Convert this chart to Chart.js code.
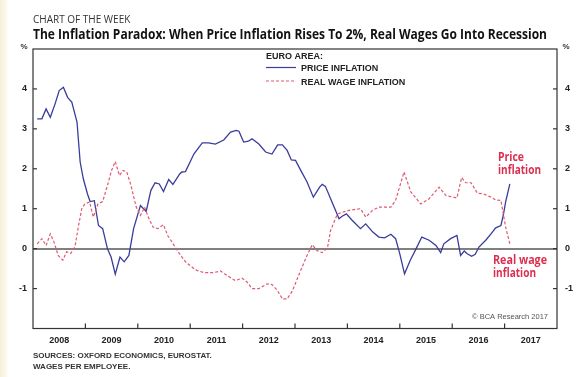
<!DOCTYPE html>
<html>
<head>
<meta charset="utf-8">
<script src="https://cdn.jsdelivr.net/npm/chart.js@4.4.1/dist/chart.umd.min.js"></script>
<style>
  html, body { margin: 0; padding: 0; background: #fff; }
  body { width: 588px; height: 377px; overflow: hidden; position: relative; }
  #edge {
    position: absolute; left: 0; top: 0; width: 9px; height: 377px;
    background: linear-gradient(to right, #f6eed8 0px, #fbf6ea 5px, #ffffff 9px);
  }
  canvas { display: block; position: absolute; left: 0; top: 0; }
</style>
</head>
<body>
<div id="edge"></div>
<canvas id="chart" width="588" height="377"></canvas>
<script>
// euro area, % y/y
const yearLabels = ["2008", "2009", "2010", "2011", "2012", "2013", "2014", "2015", "2016", "2017"];
const yTicks = [-1, 0, 1, 2, 3, 4];

const priceYears = [2008.08, 2008.17, 2008.25, 2008.33, 2008.42, 2008.50, 2008.58, 2008.66, 2008.74, 2008.84, 2008.90, 2008.96,
  2009.04, 2009.09, 2009.17, 2009.25, 2009.33, 2009.42, 2009.49, 2009.57, 2009.66, 2009.74, 2009.83, 2009.92,
  2010.05, 2010.16, 2010.25, 2010.33, 2010.41, 2010.49, 2010.59, 2010.67, 2010.80, 2010.84, 2010.91,
  2011.07, 2011.23, 2011.35, 2011.48, 2011.64, 2011.77, 2011.88, 2011.93,
  2012.02, 2012.11, 2012.18, 2012.31, 2012.44, 2012.56, 2012.67, 2012.76, 2012.85, 2012.93,
  2013.01, 2013.11, 2013.23, 2013.35, 2013.47, 2013.52, 2013.58, 2013.68, 2013.84, 2013.90, 2013.98,
  2014.09, 2014.25, 2014.35, 2014.48, 2014.60, 2014.71, 2014.83, 2014.92,
  2015.00, 2015.09, 2015.20, 2015.30, 2015.42, 2015.56, 2015.69, 2015.78, 2015.84, 2015.97,
  2016.09, 2016.16, 2016.23, 2016.28, 2016.37, 2016.44, 2016.51, 2016.64, 2016.74, 2016.83, 2016.93, 2016.98,
  2017.02, 2017.10];
const priceValues = [3.25, 3.25, 3.5, 3.29, 3.62, 3.96, 4.04, 3.79, 3.67, 3.17, 2.17, 1.75,
  1.37, 1.18, 1.2, 0.58, 0.5, 0.0, -0.21, -0.64, -0.21, -0.33, -0.17, 0.5,
  1.08, 0.93, 1.46, 1.65, 1.62, 1.43, 1.73, 1.61, 1.87, 1.92, 1.93,
  2.37, 2.65, 2.65, 2.62, 2.72, 2.92, 2.96, 2.94,
  2.67, 2.69, 2.75, 2.62, 2.42, 2.37, 2.6, 2.6, 2.46, 2.22,
  2.21, 1.96, 1.67, 1.29, 1.54, 1.61, 1.56, 1.25, 0.75, 0.81, 0.87,
  0.71, 0.5, 0.62, 0.42, 0.29, 0.27, 0.36, 0.25,
  -0.13, -0.63, -0.29, -0.03, 0.29, 0.21, 0.08, -0.1, 0.12, 0.25,
  0.33, -0.17, -0.06, -0.12, -0.19, -0.14, 0.04, 0.21, 0.37, 0.52, 0.58, 0.87,
  1.17, 1.62];

const wageYears = [2008.08, 2008.17, 2008.25, 2008.33, 2008.40, 2008.48, 2008.57, 2008.64, 2008.72, 2008.80, 2008.87, 2008.93, 2008.99,
  2009.08, 2009.15, 2009.24, 2009.33, 2009.42, 2009.50, 2009.57, 2009.65, 2009.72, 2009.79, 2009.87, 2009.97,
  2010.05, 2010.13, 2010.20, 2010.29, 2010.38, 2010.49, 2010.57, 2010.65, 2010.75, 2010.81, 2010.91,
  2011.10, 2011.26, 2011.45, 2011.58, 2011.70, 2011.86, 2011.99,
  2012.08, 2012.18, 2012.31, 2012.47, 2012.56, 2012.66, 2012.76, 2012.85, 2012.95,
  2013.11, 2013.23, 2013.33, 2013.42, 2013.52, 2013.62, 2013.68, 2013.81,
  2014.03, 2014.25, 2014.35, 2014.48, 2014.60, 2014.83, 2014.92,
  2015.08, 2015.21, 2015.40, 2015.56, 2015.75, 2015.88,
  2016.09, 2016.18, 2016.26, 2016.36, 2016.48, 2016.60, 2016.74, 2016.83, 2016.93, 2016.98,
  2017.02, 2017.10];
const wageValues = [0.12, 0.25, 0.08, 0.37, 0.17, -0.17, -0.29, -0.08, -0.12, 0.04, 0.58, 1.0, 1.12,
  1.17, 0.79, 1.12, 1.18, 1.58, 1.96, 2.18, 1.83, 1.96, 1.92, 1.58, 1.04,
  0.83, 1.04, 0.79, 0.54, 0.5, 0.6, 0.33, 0.17, -0.04, -0.15, -0.33,
  -0.53, -0.6, -0.6, -0.56, -0.67, -0.8, -0.74,
  -0.83, -1.0, -1.0, -0.88, -0.9, -1.04, -1.26, -1.26, -1.06,
  -0.54, -0.17, 0.1, -0.05, -0.1, 0.02, 0.46, 0.87,
  0.96, 1.0, 0.79, 0.96, 1.04, 1.04, 1.21,
  1.92, 1.42, 1.12, 1.25, 1.54, 1.33,
  1.27, 1.78, 1.65, 1.65, 1.39, 1.37, 1.29, 1.22, 1.21, 0.83,
  0.54, 0.12];

const BLUE = "#3a3c9a";
const RED = "#df5a70";
const ANNO = "#dc2f4f";
const INK = "#222";

function pairs(xs, ys) {
  return xs.map((x, i) => ({ x: x, y: ys[i] }));
}

function text(ctx, str, x, y, font, color, align, maxW) {
  ctx.font = font;
  ctx.fillStyle = color;
  ctx.textAlign = align || "left";
  ctx.textBaseline = "middle";
  if (maxW) ctx.fillText(str, x, y, maxW);
  else ctx.fillText(str, x, y);
}

function line(ctx, x1, y1, x2, y2) {
  ctx.beginPath();
  ctx.moveTo(x1, y1);
  ctx.lineTo(x2, y2);
  ctx.stroke();
}

const decor = {
  id: "decor",
  afterDraw(chart) {
    const { ctx, chartArea: a, scales } = chart;
    ctx.save();

    // frame + inward ticks
    ctx.strokeStyle = "#333";
    ctx.lineWidth = 1.2;
    ctx.strokeRect(a.left, a.top, a.right - a.left, a.bottom - a.top);
    yTicks.forEach(v => {
      const y = scales.y.getPixelForValue(v);
      line(ctx, a.left, y, a.left + 4, y);
      line(ctx, a.right - 4, y, a.right, y);
    });
    for (let yr = 2009; yr <= 2017; yr++) {
      const x = scales.x.getPixelForValue(yr);
      line(ctx, x, a.bottom, x, a.bottom - 5);
    }

    // headings
    text(ctx, "CHART OF THE WEEK", 33, 20.5, "10px 'Open Sans'", "#333", "left", 102);
    text(ctx, "The Inflation Paradox: When Price Inflation Rises To 2%, Real Wages Go Into Recession",
      33, 35, "bold 15px 'Open Sans'", "#111", "left", 514);
    text(ctx, "%", 24, 47, "bold 8px 'Liberation Sans'", "#333", "center");
    text(ctx, "%", 566, 47, "bold 8px 'Liberation Sans'", "#333", "center");

    // legend
    text(ctx, "EURO AREA:", 266, 57, "bold 9px 'Liberation Sans'", INK, "left");
    ctx.strokeStyle = BLUE;
    ctx.lineWidth = 1.2;
    line(ctx, 266, 67.5, 296, 67.5);
    ctx.strokeStyle = RED;
    ctx.setLineDash([3, 2]);
    line(ctx, 266, 81, 296, 81);
    ctx.setLineDash([]);
    text(ctx, "PRICE INFLATION", 301, 69, "bold 9px 'Liberation Sans'", INK, "left");
    text(ctx, "REAL WAGE INFLATION", 301, 83, "bold 9px 'Liberation Sans'", INK, "left");

    // annotations
    const af = "bold 13px 'Open Sans'";
    text(ctx, "Price", 498, 157.5, af, ANNO, "left", 26);
    text(ctx, "inflation", 498, 170.5, af, ANNO, "left", 43);
    text(ctx, "Real wage", 493, 260, af, ANNO, "left", 54);
    text(ctx, "inflation", 493, 273, af, ANNO, "left", 43);

    text(ctx, "\u00A9 BCA Research 2017", 548, 317, "7.5px 'Liberation Sans'", "#555", "right", 80);

    // footer
    text(ctx, "SOURCES: OXFORD ECONOMICS, EUROSTAT.", 33, 355.5, "bold 8px 'Liberation Sans'", "#333", "left", 190);
    text(ctx, "WAGES PER EMPLOYEE.", 33, 366.5, "bold 8px 'Liberation Sans'", "#333", "left");
    ctx.restore();
  }
};

new Chart(document.getElementById("chart"), {
  type: "line",
  data: {
    datasets: [
      {
        label: "REAL WAGE INFLATION",
        data: pairs(wageYears, wageValues),
        borderColor: RED,
        borderWidth: 1.2,
        borderDash: [3, 2],
        pointRadius: 0,
        tension: 0
      },
      {
        label: "PRICE INFLATION",
        data: pairs(priceYears, priceValues),
        borderColor: BLUE,
        borderWidth: 1.3,
        pointRadius: 0,
        tension: 0
      }
    ]
  },
  options: {
    responsive: false,
    animation: false,
    layout: { padding: { top: 49, left: 0, right: 0, bottom: 0 } },
    plugins: {
      legend: { display: false },
      tooltip: { enabled: false }
    },
    scales: {
      x: { type: "linear", min: 2008, max: 2018, display: false },
      years: {
        type: "category",
        labels: yearLabels,
        offset: true,
        position: "bottom",
        grid: { display: false, drawTicks: false },
        border: { display: false },
        ticks: {
          color: INK,
          font: { family: "Liberation Sans", size: 9, weight: "bold" },
          padding: 7,
          maxRotation: 0,
          autoSkip: false
        },
        afterFit: s => { s.height = 48.5; }
      },
      y: {
        position: "left",
        min: -2,
        max: 5,
        ticks: {
          stepSize: 1,
          color: INK,
          padding: 6,
          font: { family: "Liberation Sans", size: 9, weight: "bold" },
          callback: v => (v === 5 || v === -2) ? "" : v
        },
        grid: {
          drawTicks: false,
          lineWidth: 2,
          color: c => (c.tick && c.tick.value === 0) ? "#808080" : "rgba(0,0,0,0)"
        },
        border: { display: false },
        afterFit: s => { s.width = 33; }
      },
      y2: {
        position: "right",
        min: -2,
        max: 5,
        ticks: {
          stepSize: 1,
          color: INK,
          padding: 8,
          font: { family: "Liberation Sans", size: 9, weight: "bold" },
          callback: v => (v === 5 || v === -2) ? "" : v
        },
        grid: { display: false, drawTicks: false },
        border: { display: false },
        afterFit: s => { s.width = 31; }
      }
    }
  },
  plugins: [decor]
});
</script>
</body>
</html>
